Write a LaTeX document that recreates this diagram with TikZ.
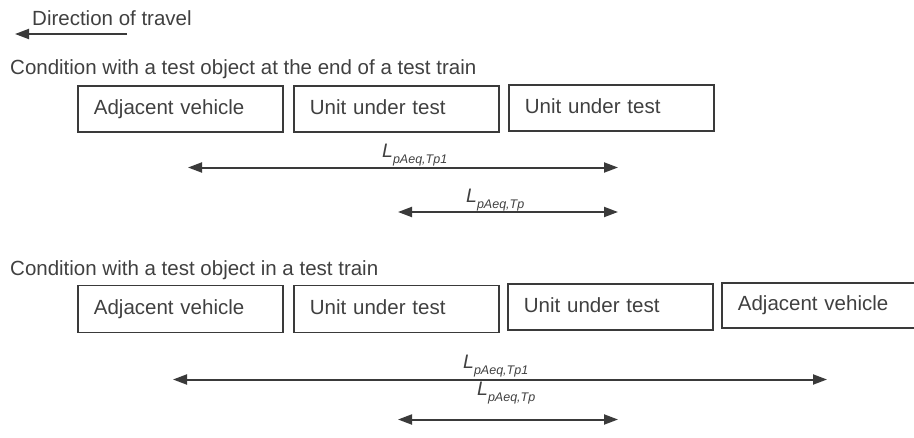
\documentclass[tikz,border=0pt]{standalone}
\usepackage{fontspec}
\setmainfont{Liberation Sans}
\usetikzlibrary{arrows.meta}
\definecolor{ink}{HTML}{3A3A3A}
\definecolor{txt}{HTML}{404040}
\tikzset{
  x=1pt, y=-1pt,
  every node/.style={text=txt, font=\fontsize{20.5}{22}\selectfont},
  carbox/.style={draw=ink, line width=1.8pt, rectangle, anchor=north west,
    minimum width=205pt, minimum height=46pt, inner xsep=16pt, inner ysep=0pt,
    text width=173pt, text height=15pt, text depth=4.5pt, align=left},
  title/.style={anchor=base west, inner sep=0pt},
  dim/.style={draw=ink, line width=2pt, {Triangle[length=14pt,width=10pt]}-{Triangle[length=14pt,width=10pt]}},
  lbl/.style={anchor=base west, inner sep=0pt}
}
\newcommand{\Lab}[1]{{\fontsize{19.5}{20}\selectfont\textit{L}}\raisebox{-6pt}{\fontsize{12.5}{13}\selectfont\textit{#1}}}
\begin{document}
\begin{tikzpicture}
\useasboundingbox (0,0) rectangle (914,437);
% direction of travel
\node[title] (dir) at (32,25) {Direction of travel};
\coordinate (dirR) at (127,34);
\coordinate (dirL) at (15,34);
\draw[draw=ink, line width=2pt, -{Triangle[length=14pt,width=10pt]}] (dirR) -- (dirL);
% condition 1
\node[title] (t1) at (10,74) {Condition with a test object at the end of a test train};
\node[carbox] (b11) at (77,85) {Adjacent vehicle};
\node[carbox] (b12) at (293,85) {Unit under test};
\node[carbox] (b13) at (508,84) {Unit under test};
\coordinate (a1L) at (188,167.5);
\coordinate (a1R) at (618,167.5);
\draw[dim] (a1L) -- (a1R);
\node[lbl] (l1) at (382,157) {\Lab{pAeq,Tp1}};
\coordinate (a2L) at (398,212);
\coordinate (a2R) at (618,212);
\draw[dim] (a2L) -- (a2R);
\node[lbl] (l2) at (466,202) {\Lab{pAeq,Tp}};
% condition 2
\node[title] (t2) at (10,275) {Condition with a test object in a test train};
\node[carbox, minimum height=47pt] (b21) at (77,284.5) {Adjacent vehicle};
\node[carbox, minimum height=47pt] (b22) at (293,284.5) {Unit under test};
\node[carbox, minimum height=46pt] (b23) at (507,283) {Unit under test};
\node[carbox, minimum height=45pt] (b24) at (721,282) {Adjacent vehicle};
\coordinate (a3L) at (173,379.5);
\coordinate (a3R) at (827,379.5);
\draw[dim] (a3L) -- (a3R);
\node[lbl] (l3) at (463,368) {\Lab{pAeq,Tp1}};
\coordinate (a4L) at (398,419.5);
\coordinate (a4R) at (618,419.5);
\draw[dim] (a4L) -- (a4R);
\node[lbl] (l4) at (477,395) {\Lab{pAeq,Tp}};
\end{tikzpicture}
\end{document}
